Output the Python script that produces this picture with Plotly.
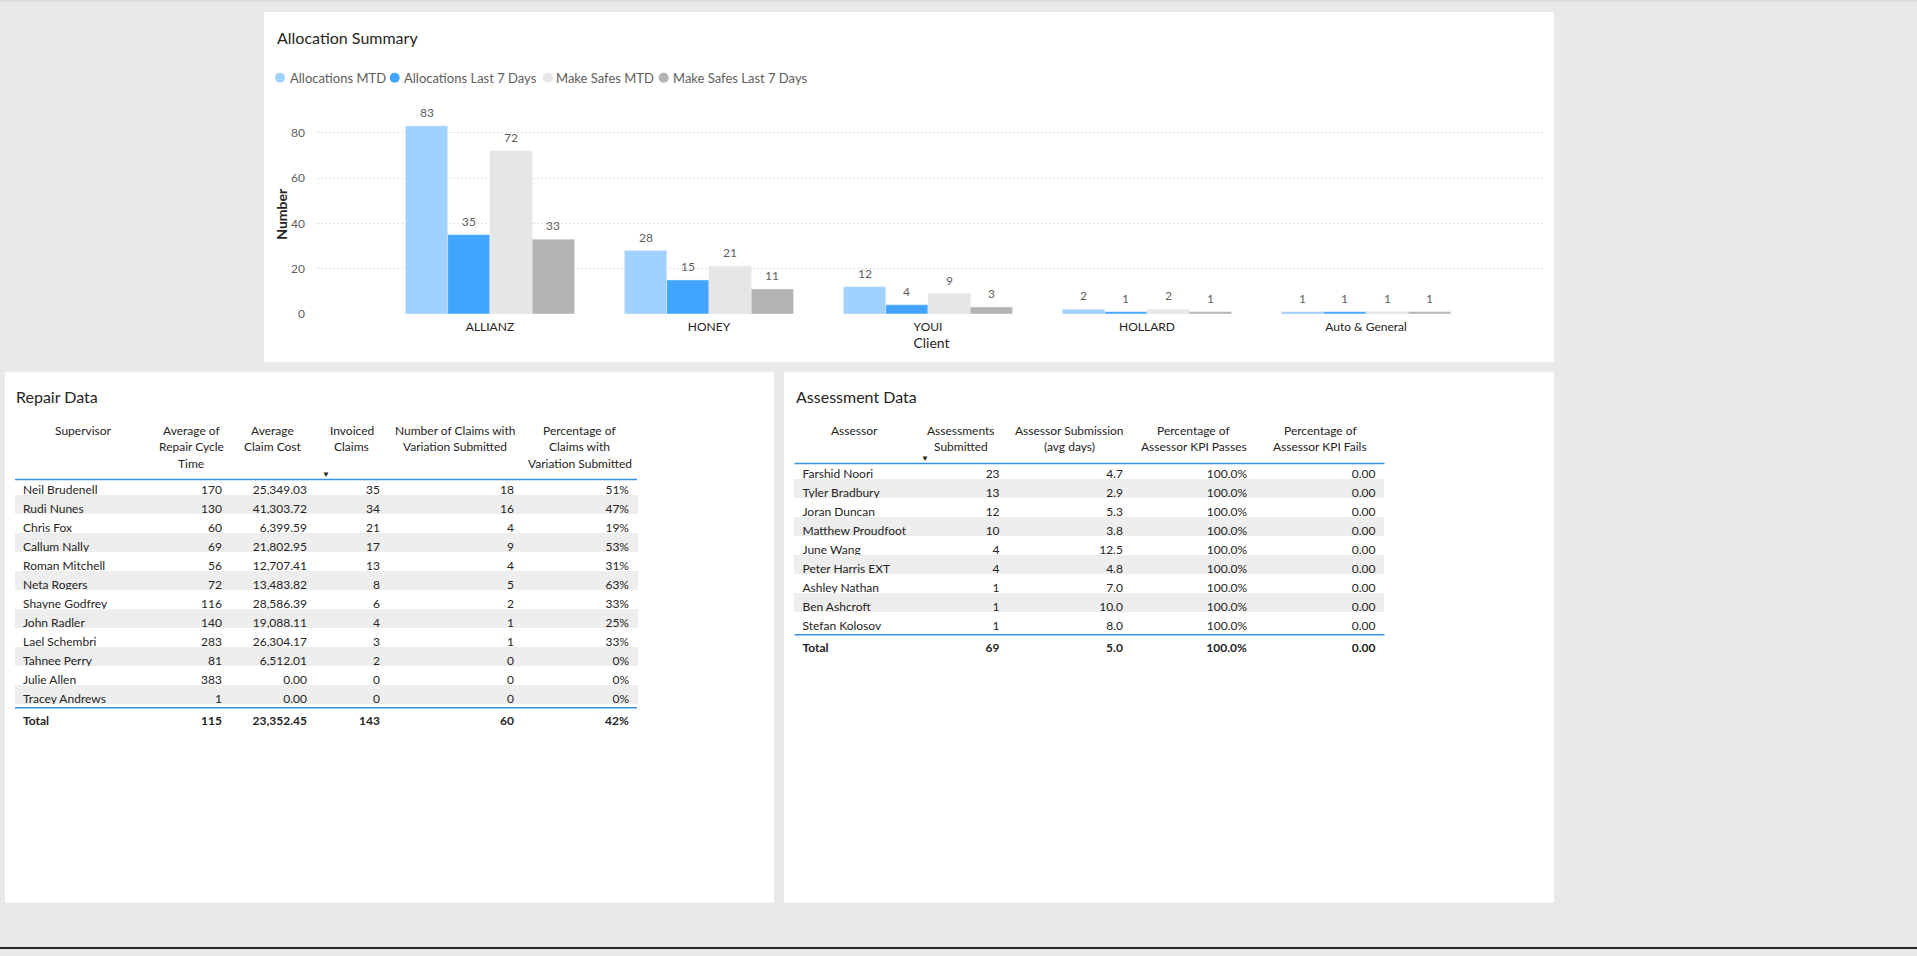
import plotly.graph_objects as go

W, H = 1917, 956
K = 1.008            # the figure comes out ~949px tall in the page photo; map reference y onto that
FONT = "Lato"
DARK = "#252423"
GREY_TXT = "#605E5C"
BLUE_LINE = "#3791E6"
ROW_GREY = "#EEEEEE"
BG = "#E9E9E9"

# allocation summary
clients = ['ALLIANZ', 'HONEY', 'YOUI', 'HOLLARD', 'Auto & General']
alloc_mtd = [83, 28, 12, 2, 1]
alloc_7d = [35, 15, 4, 1, 1]
safes_mtd = [72, 21, 9, 2, 1]
safes_7d = [33, 11, 3, 1, 1]

# repair data
supervisors = ['Neil Brudenell', 'Rudi Nunes', 'Chris Fox', 'Callum Nally', 'Roman Mitchell',
               'Neta Rogers', 'Shayne Godfrey', 'John Radler', 'Lael Schembri', 'Tahnee Perry',
               'Julie Allen', 'Tracey Andrews']
repair_cycle = [170, 130, 60, 69, 56, 72, 116, 140, 283, 81, 383, 1]
claim_cost = [25349.03, 41303.72, 6399.59, 21802.95, 12707.41, 13483.82, 28586.39,
              19088.11, 26304.17, 6512.01, 0.00, 0.00]
invoiced = [35, 34, 21, 17, 13, 8, 6, 4, 3, 2, 0, 0]
variation_claims = [18, 16, 4, 9, 4, 5, 2, 1, 1, 0, 0, 0]
variation_pct = [51, 47, 19, 53, 31, 63, 33, 25, 33, 0, 0, 0]
repair_total = [115, 23352.45, 143, 60, 42]
repair_head = ['Supervisor', 'Average of<br>Repair Cycle<br>Time', 'Average<br>Claim Cost',
               'Invoiced<br>Claims', 'Number of Claims with<br>Variation Submitted',
               'Percentage of<br>Claims with<br>Variation Submitted']

# assessment data
assessors = ['Farshid Noori', 'Tyler Bradbury', 'Joran Duncan', 'Matthew Proudfoot', 'June Wang',
             'Peter Harris EXT', 'Ashley Nathan', 'Ben Ashcroft', 'Stefan Kolosov']
submitted = [23, 13, 12, 10, 4, 4, 1, 1, 1]
submission_days = [4.7, 2.9, 5.3, 3.8, 12.5, 4.8, 7.0, 10.0, 8.0]
kpi_pass = [100.0, 100.0, 100.0, 100.0, 100.0, 100.0, 100.0, 100.0, 100.0]
kpi_fail = [0.00, 0.00, 0.00, 0.00, 0.00, 0.00, 0.00, 0.00, 0.00]
assess_total = [69, 5.0, 100.0, 0.00]
assess_head = ['Assessor', 'Assessments<br>Submitted', 'Assessor Submission<br>(avg days)',
               'Percentage of<br>Assessor KPI Passes', 'Percentage of<br>Assessor KPI Fails']


def px(x):
    return x / W


def py(y):
    return max(0.0, 1 - K * y / H)


fig = go.Figure()
annotations = []

BARGAP = 0.228
series = [('Allocations MTD', alloc_mtd, '#A0D1FF'),
          ('Allocations Last 7 Days', alloc_7d, '#41A4FF'),
          ('Make Safes MTD', safes_mtd, '#E6E6E6'),
          ('Make Safes Last 7 Days', safes_7d, '#B3B3B3')]
# compact power-bi style legend: dot centre and label start for each series
legend_dot_x = [280, 394.7, 547.8, 663.7]
legend_text_x = [287.6, 401.6, 554, 671.4]
LEGEND_Y = 77.7
bar_w = (1 - BARGAP) / len(series)
for k, (name, vals, col) in enumerate(series):
    fig.add_trace(go.Bar(x=clients, y=vals, name=name, marker_color=col))
    fig.add_shape(type='circle', xref='paper', yref='paper',
                  x0=px(legend_dot_x[k] - 5), x1=px(legend_dot_x[k] + 5),
                  y0=py(LEGEND_Y + 5), y1=py(LEGEND_Y - 5), fillcolor=col, line_width=0)
    annotations.append(dict(text=name, x=px(legend_text_x[k]), y=py(LEGEND_Y),
                            xref='paper', yref='paper', xanchor='left', yanchor='middle',
                            font=dict(size=13, color=GREY_TXT)))
    # value labels above each bar
    for i, v in enumerate(vals):
        annotations.append(dict(text=str(v), x=i + (k - 1.5) * bar_w, y=v, xref='x', yref='y',
                                xanchor='center', yanchor='middle', yshift=13.5,
                                font=dict(size=12, color=GREY_TXT)))


def bold(v):
    return '<b>' + v + '</b>'


def nb(v):
    # keep names on one line
    return v.replace(' ', '\u00a0')


def row_fills(n, ncols):
    col = ['white' if i % 2 == 0 else ROW_GREY for i in range(n)] + ['white']
    return [col] * ncols


ROW_H = 19
TABLE_TOP = 414      # table text sits low in its cell, so the table starts a little high
HEAD_TEXT_Y = 430    # centre of the first header line


def add_table(left, right, rule_y, widths, head, cols, aligns, arrow_col):
    nrows = len(cols[0]) - 1
    head_h = rule_y - 3 - TABLE_TOP
    fills = row_fills(nrows, len(cols))
    fig.add_trace(go.Table(
        domain=dict(x=[px(left), px(right)], y=[py(900), py(TABLE_TOP)]),
        columnwidth=widths,
        header=dict(values=[''] * len(head), height=head_h,
                    fill_color='white', line_color='white',
                    font=dict(family=FONT, size=12, color=DARK)),
        cells=dict(values=cols, align=aligns, height=ROW_H,
                   fill_color=fills, line_color=fills,
                   font=dict(family=FONT, size=12, color=DARK))))
    # header labels, each line centred over its column
    scale = (right - left) / sum(widths)
    x = left
    for i, (w, label) in enumerate(zip(widths, head)):
        for j, line in enumerate(label.split('<br>')):
            annotations.append(dict(text=line, x=px(x + w * scale / 2), y=py(HEAD_TEXT_Y + 16.5 * j),
                                    xref='paper', yref='paper', xanchor='center', yanchor='middle',
                                    font=dict(size=12, color=DARK)))
        if i == arrow_col:
            annotations.append(dict(text='▼', x=px(x + 5), y=py(rule_y - 6),
                                    xref='paper', yref='paper', xanchor='left', yanchor='middle',
                                    font=dict(size=8, color=DARK)))
        x += w * scale
    for yy in (rule_y, rule_y + ROW_H * nrows):
        fig.add_shape(type='line', xref='paper', yref='paper', x0=px(left), x1=px(right),
                      y0=py(yy), y1=py(yy), line=dict(color=BLUE_LINE, width=1.5))


# repair table
repair_cols = [
    [nb(s) for s in supervisors] + [bold('Total')],
    [str(v) for v in repair_cycle] + [bold(str(repair_total[0]))],
    [f"{v:,.2f}" for v in claim_cost] + [bold(f"{repair_total[1]:,.2f}")],
    [str(v) for v in invoiced] + [bold(str(repair_total[2]))],
    [str(v) for v in variation_claims] + [bold(str(repair_total[3]))],
    [f"{v}%" for v in variation_pct] + [bold(f"{repair_total[4]}%")],
]
add_table(15, 637, 479.3, [137, 78, 85, 73, 134, 115], repair_head, repair_cols,
          ['left', 'right', 'right', 'right', 'right', 'right'], 3)

# assessment table
assess_cols = [
    [nb(s) for s in assessors] + [bold('Total')],
    [str(v) for v in submitted] + [bold(str(assess_total[0]))],
    [f"{v:.1f}" for v in submission_days] + [bold(f"{assess_total[1]:.1f}")],
    [f"{v:.1f}%" for v in kpi_pass] + [bold(f"{assess_total[2]:.1f}%")],
    [f"{v:.2f}" for v in kpi_fail] + [bold(f"{assess_total[3]:.2f}")],
]
add_table(794.5, 1384.5, 463.3, [119.5, 94, 123.6, 124.4, 128.7], assess_head, assess_cols,
          ['left', 'right', 'right', 'right', 'right'], 1)

panels = [
    (264, 1554, 12, 362), (5, 774, 372, 902), (784, 1554, 372, 902),
]
for x0, x1, y0, y1 in panels:
    fig.add_shape(type='rect', xref='paper', yref='paper', x0=px(x0), x1=px(x1),
                  y0=py(y1), y1=py(y0), fillcolor='white', line_width=0, layer='below')
fig.add_shape(type='rect', xref='paper', yref='paper', x0=0, x1=1, y0=py(2), y1=1,
              fillcolor='#DCDCDC', line_width=0, layer='below')
fig.add_shape(type='rect', xref='paper', yref='paper', x0=0, x1=1, y0=0, y1=2 / H,
              fillcolor='#252A30', line_width=0, layer='below')

for text, x, y in [('Allocation Summary', 275, 37), ('Repair Data', 14, 396),
                   ('Assessment Data', 794, 396)]:
    annotations.append(dict(text=text, x=px(x), y=py(y), xref='paper', yref='paper',
                            xanchor='left', yanchor='middle', font=dict(size=16, color=DARK)))
for a in annotations:
    a['showarrow'] = False
    a['font']['family'] = FONT

# no fixed width/height: the figure fills the browser window
fig.update_layout(
    margin=dict(l=0, r=0, t=0, b=0),
    paper_bgcolor=BG, plot_bgcolor='white',
    font=dict(family=FONT, color=DARK),
    barmode='group', bargap=BARGAP, bargroupgap=0,
    showlegend=False,
    xaxis=dict(domain=[px(318), px(1545)], range=[-0.785, 4.817], showgrid=False,
               showline=False, ticks='', fixedrange=True, ticklabelstandoff=4,
               tickfont=dict(family=FONT, size=12, color=DARK),
               title=dict(text='Client', font=dict(family=FONT, size=14, color=DARK), standoff=4)),
    yaxis=dict(domain=[py(313.7), py(114.6)], range=[0, 88], tickvals=[0, 20, 40, 60, 80],
               showgrid=True, gridcolor='#C4C4C4', griddash='1px,3px', gridwidth=1,
               zeroline=False, showline=False, ticks='', ticklabelstandoff=12, fixedrange=True,
               tickfont=dict(family=FONT, size=12, color=GREY_TXT),
               title=dict(text='<b>Number</b>', font=dict(family=FONT, size=14, color=DARK), standoff=0)),
    annotations=annotations,
)

fig.write_html("out.html", config={'displayModeBar': False},
               default_width='100vw', default_height='100vh',
               post_script="var d=document.getElementById('{plot_id}');d.style.position='fixed';"
                           "d.style.top='0px';d.style.left='0px';"
                           "document.body.style.margin='0';document.body.style.overflow='hidden';"
                           "document.body.style.background='" + BG + "';"
                           "document.documentElement.style.background='" + BG + "';")
